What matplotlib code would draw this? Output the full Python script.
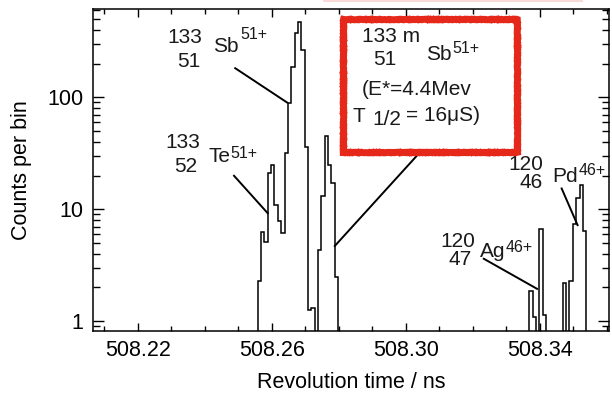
import numpy as np
import matplotlib
matplotlib.use("Agg")
import matplotlib.pyplot as plt
from matplotlib.patches import Rectangle
from matplotlib.ticker import MultipleLocator, LogLocator, NullFormatter, FixedLocator, FixedFormatter

plt.rcParams['font.family'] = ['Liberation Sans', 'DejaVu Sans']

# ---- histogram data: revolution time (ns), 1 ps bins ----
bin_width = 0.001
first_bin = 508.2558

# counts per bin for each group of neighbouring bins, with the left edge of its first bin
te_sb_start = 508.2558
te_sb_counts = [2.3, 6.2, 5.1, 21, 25, 11, 7.9, 6.1, 32, 89, 188, 380, 470, 265, 36, 1.25, 1.3]
sbm_start = 508.2738
sbm_counts = [4.3, 13, 45, 25, 17, 2.5]
ag_start = 508.3368
ag_counts = [1.85, 1.09, 0, 6.6, 1.13]
pd_start = 508.3468
pd_counts = [2.2, 0, 2.3, 7.4, 12.6, 16.5, 6.4]
n_bins = 98

x_ticks = [508.22, 508.26, 508.30, 508.34]
x_ticklabels = ["508.22", "508.26", "508.30", "508.34"]
y_ticks = [1, 10, 100]
y_ticklabels = ["1", "10", "100"]

# ---- assemble the full histogram ----
counts = np.zeros(n_bins)
for start, vals in [(te_sb_start, te_sb_counts), (sbm_start, sbm_counts),
                    (ag_start, ag_counts), (pd_start, pd_counts)]:
    i0 = int(round((start - first_bin) / bin_width))
    counts[i0:i0 + len(vals)] = vals
edges = first_bin + bin_width * np.arange(n_bins + 1)

floor = 0.3  # empty bins drawn below the visible range on the log axis
plot_counts = np.where(counts > 0, counts, floor)

fig = plt.figure(figsize=(6.12, 3.97), dpi=100)
ax = fig.add_axes([93 / 612, 1 - 331 / 397, 516 / 612, 322 / 397])

ax.stairs(plot_counts, edges, baseline=floor, color='black', lw=1.1)

ax.set_yscale('log')
ax.set_xlim(508.20666, 508.3606)
ax.set_ylim(0.814, 617)

ax.xaxis.set_major_locator(FixedLocator(x_ticks))
ax.xaxis.set_major_formatter(FixedFormatter(x_ticklabels))
ax.xaxis.set_minor_locator(MultipleLocator(0.01))
ax.yaxis.set_major_locator(FixedLocator(y_ticks))
ax.yaxis.set_major_formatter(FixedFormatter(y_ticklabels))
ax.yaxis.set_minor_locator(LogLocator(base=10, subs=np.arange(2, 10)))
ax.yaxis.set_minor_formatter(NullFormatter())

ax.tick_params(axis='both', which='both', direction='in', top=True, right=True,
               width=1.0, labelsize=15.5, colors='black')
ax.tick_params(axis='x', which='major', length=5.5, pad=6.5)
ax.tick_params(axis='x', which='minor', length=3.5)
ax.tick_params(axis='y', which='major', length=8, pad=7)
ax.tick_params(axis='y', which='minor', length=4.8)
for sp in ax.spines.values():
    sp.set_linewidth(1.1)

ax.set_xlabel('Revolution time / ns', fontsize=15.5, labelpad=8)
ax.set_ylabel('Counts per bin', fontsize=15.5, labelpad=11)

txt = dict(fontsize=15, color='#1a1a1a', va='baseline')
sup = dict(fontsize=11.5, color='#1a1a1a', va='baseline')
line = dict(color='black', lw=1.4, solid_capstyle='butt')

# 133Sb 51+
ax.text(508.23919, 306.7, '133', ha='right', **txt)
ax.text(508.23860, 187.1, '51', ha='right', **txt)
ax.text(508.24248, 254.7, 'Sb', ha='left', **txt)
ax.text(508.25054, 329.5, '51+', ha='left', **sup)
ax.plot([508.24884, edges[9]], [184.4, counts[9]], **line)

# 133Te 51+
ax.text(508.23860, 35.3, '133', ha='right', **txt)
ax.text(508.23770, 21.5, '52', ha='right', **txt)
ax.text(508.24099, 26.4, 'Te', ha='left', **txt)
ax.text(508.24755, 28.7, '51+', ha='left', **sup)
ax.plot([508.24854, 508.25899], [20.2, 9.06], **line)

# isomer 133mSb 51+ in the hand-drawn red box
box = Rectangle((508.28114, 32.8), 508.33308 - 508.28114, 497.6 - 32.8,
                fill=False, ec='#e6281b', lw=5, joinstyle='miter', zorder=4)
box.set_sketch_params(scale=0.3, length=1.5, randomness=2.0)
ax.add_patch(box)
ax.text(508.28687, 313.0, '133 m', ha='left', **txt)
ax.text(508.29024, 194.9, '51', ha='left', **txt)
ax.text(508.30606, 216.1, 'Sb', ha='left', **txt)
ax.text(508.31382, 249.5, '51+', ha='left', **sup)
ax.text(508.28687, 105.1, '(E*=4.4Mev', ha='left', **txt)
ax.text(508.28397, 60.2, 'T', ha='left', **txt)
ax.text(508.28994, 56.1, '1/2', ha='left', **txt)
ax.text(508.30010, 61.5, '= 16\u03bcS)', ha='left', **txt)
ax.plot([508.30376, 508.27860], [31.2, 4.62], **line)

# 120Ag 46+
ax.text(508.32069, 4.59, '120', ha='right', **txt)
ax.text(508.31979, 3.17, '47', ha='right', **txt)
ax.text(508.32218, 3.74, 'Ag', ha='left', **txt)
ax.text(508.32964, 4.18, '46+', ha='left', **sup)
ax.plot([508.32299, 508.33940], [3.64, 1.92], **line)

# 120Pd 46+
ax.text(508.34099, 22.4, '120', ha='right', **txt)
ax.text(508.34069, 15.5, '46', ha='right', **txt)
ax.text(508.34367, 17.5, 'Pd', ha='left', **txt)
ax.text(508.35143, 20.4, '46+', ha='left', **sup)
ax.plot([508.34636, 508.35134], [15.6, 7.07], **line)

# faint red trace along the top edge of the figure
fig.patches.append(Rectangle((323 / 612, 1 - 2.0 / 397), 260 / 612, 2.0 / 397,
                             transform=fig.transFigure, color='#fadad6', lw=0))

fig.savefig('out.png', dpi=100)
